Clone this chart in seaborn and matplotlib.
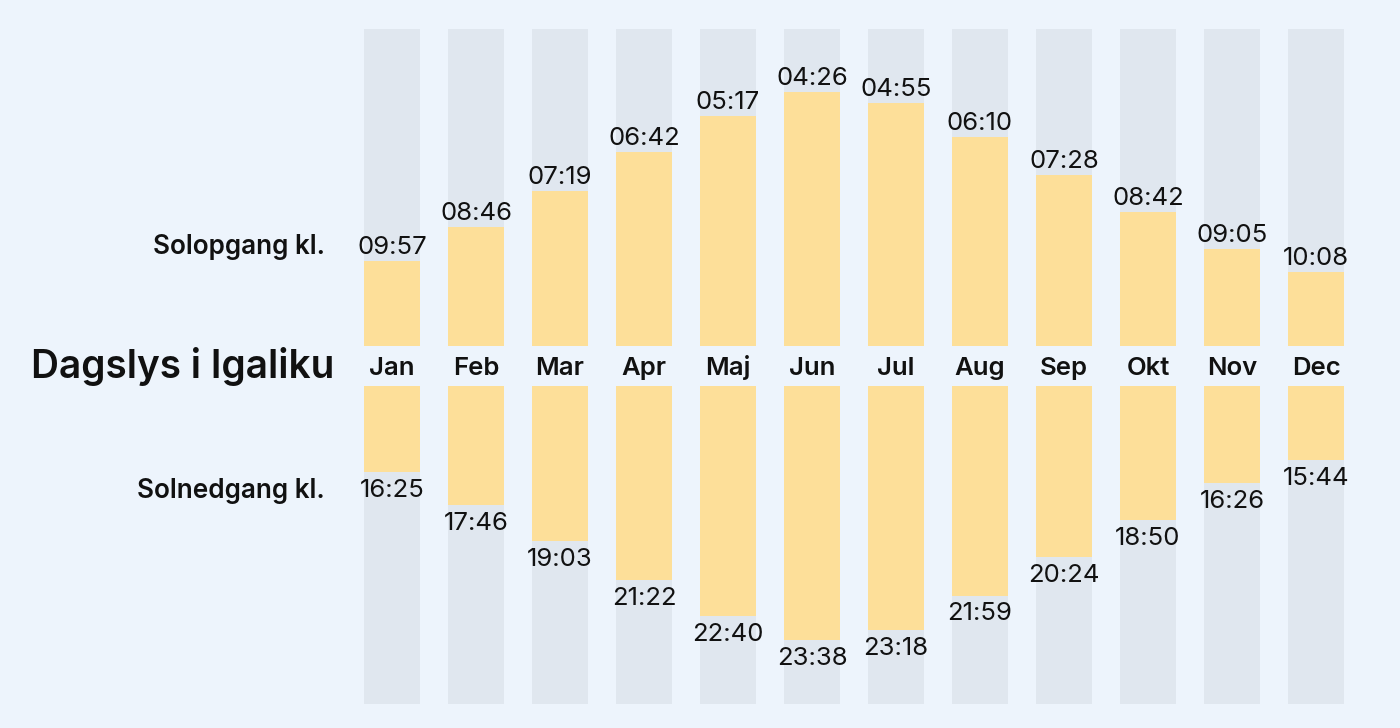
import matplotlib
matplotlib.use('Agg')
import pandas as pd
import matplotlib.pyplot as plt
import matplotlib.transforms as mtransforms
import seaborn as sns

# data
months = ['Jan', 'Feb', 'Mar', 'Apr', 'Maj', 'Jun', 'Jul', 'Aug', 'Sep', 'Okt', 'Nov', 'Dec']
sunrise = ['09:57', '08:46', '07:19', '06:42', '05:17', '04:26',
           '04:55', '06:10', '07:28', '08:42', '09:05', '10:08']
sunset = ['16:25', '17:46', '19:03', '21:22', '22:40', '23:38',
          '23:18', '21:59', '20:24', '18:50', '16:26', '15:44']
full_day_minutes = 24 * 60


def to_minutes(t):
    h, m = t.split(':')
    return int(h) * 60 + int(m)


df = pd.DataFrame({'month': months, 'sunrise': sunrise, 'sunset': sunset})
df['daylight'] = df['sunset'].map(to_minutes) - df['sunrise'].map(to_minutes)
# daylight is split in half: one half drawn up, one half drawn down
df['half_daylight'] = df['daylight'] / 2
df['half_day'] = full_day_minutes / 2

bg = '#EDF4FC'
gray = '#E0E7EF'
yellow = '#FDDF99'
ink = '#111111'

sns.set_theme(style='white')
plt.rcParams['font.family'] = ['Inter', 'DejaVu Sans']

fig = plt.figure(figsize=(14, 7.28), dpi=100, facecolor=bg)
ax_top = fig.add_axes([0.25, 0.5247, 0.72, 0.4354])
ax_bot = fig.add_axes([0.25, 0.033, 0.72, 0.4368])

for ax in (ax_top, ax_bot):
    sns.barplot(data=df, x='month', y='half_day', color=gray, width=0.667,
                saturation=1, errorbar=None, linewidth=0, ax=ax)
    sns.barplot(data=df, x='month', y='half_daylight', color=yellow, width=0.667,
                saturation=1, errorbar=None, linewidth=0, ax=ax)
    ax.set_xlim(-0.5, 11.5)
    ax.set_ylim(0, full_day_minutes / 2)
    ax.axis('off')
ax_bot.invert_yaxis()

ax_top.bar_label(ax_top.containers[1], labels=sunrise, padding=1.5,
                 fontsize=18.5, color=ink)
ax_bot.bar_label(ax_bot.containers[1], labels=sunset, padding=5,
                 fontsize=18.5, color=ink)

# month names between the two halves
trans = mtransforms.blended_transform_factory(ax_top.transData, fig.transFigure)
for i, m in enumerate(months):
    fig.text(i, 0.4849, m, transform=trans, ha='center', va='baseline',
             fontsize=18.5, fontweight='semibold', color=ink)

fig.text(0.2386, 0.4804, 'Dagslys i Igaliku', ha='right', va='baseline',
         fontsize=27.9, fontweight='semibold', color=ink)
fig.text(0.2321, 0.6511, 'Solopgang kl.', ha='right', va='baseline',
         fontsize=18.8, fontweight='semibold', color=ink)
fig.text(0.2321, 0.3159, 'Solnedgang kl.', ha='right', va='baseline',
         fontsize=18.8, fontweight='semibold', color=ink)

fig.savefig('out.png', dpi=100, facecolor=bg)
